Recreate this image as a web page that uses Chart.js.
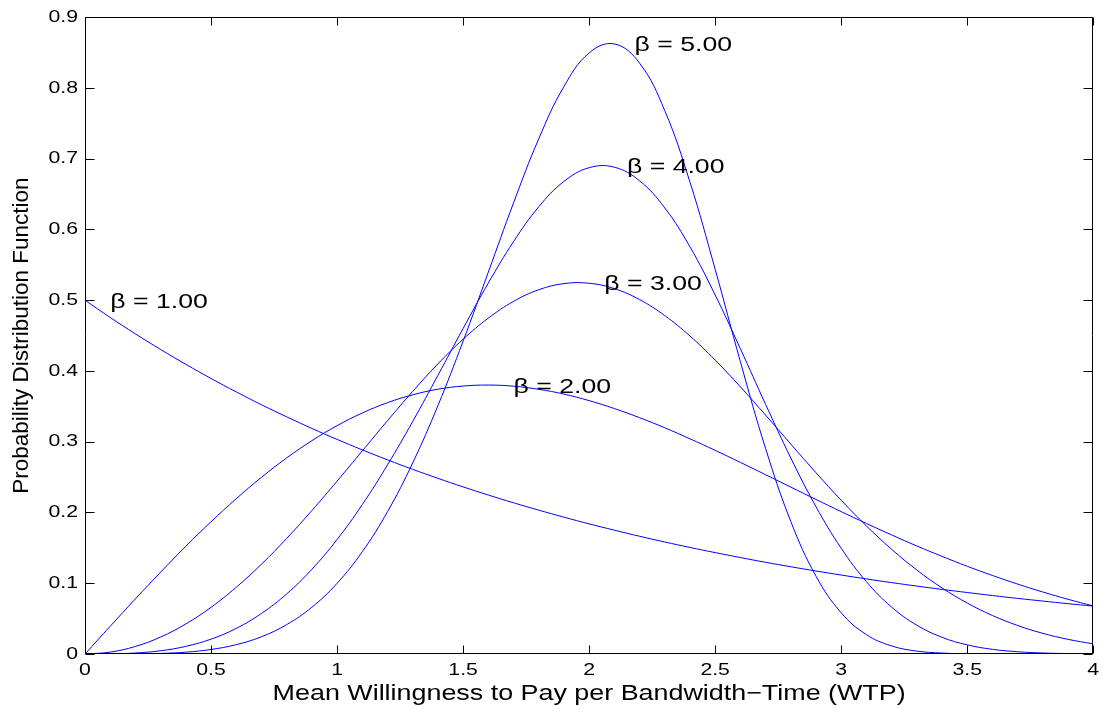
<!DOCTYPE html>
<html>
<head>
<meta charset="utf-8">
<script src="https://cdn.jsdelivr.net/npm/chart.js@4.4.1/dist/chart.umd.min.js"></script>
<style>
  html, body { margin: 0; padding: 0; background: #ffffff; }
  #wrap { width: 1104px; height: 709px; position: relative; }
</style>
</head>
<body>
<div id="wrap"><canvas id="c"></canvas></div>
<script>
// ---- data ----
const xValues = [0, 0.1, 0.2, 0.3, 0.4, 0.5, 0.6, 0.7, 0.8, 0.9,
                 1.0, 1.1, 1.2, 1.3, 1.4, 1.5, 1.6, 1.7, 1.8, 1.9,
                 2.0, 2.1, 2.2, 2.3, 2.4, 2.5, 2.6, 2.7, 2.8, 2.9,
                 3.0, 3.1, 3.2, 3.3, 3.4, 3.5, 3.6, 3.7, 3.8, 3.9, 4.0];

const beta1 = [0.5, 0.4756, 0.4524, 0.4304, 0.4094, 0.3894, 0.3704, 0.3523, 0.3352, 0.3188,
               0.3033, 0.2885, 0.2744, 0.2610, 0.2483, 0.2362, 0.2247, 0.2137, 0.2033, 0.1934,
               0.1839, 0.1750, 0.1664, 0.1583, 0.1506, 0.1433, 0.1363, 0.1296, 0.1233, 0.1173,
               0.1116, 0.1061, 0.1009, 0.0960, 0.0913, 0.0869, 0.0826, 0.0786, 0.0748, 0.0711, 0.0677];

const beta2 = [0, 0.0392, 0.0779, 0.1157, 0.1522, 0.1869, 0.2195, 0.2497, 0.2771, 0.3015,
               0.3227, 0.3406, 0.3552, 0.3663, 0.3742, 0.3787, 0.3801, 0.3785, 0.3741, 0.3673,
               0.3581, 0.3469, 0.3340, 0.3197, 0.3041, 0.2878, 0.2708, 0.2534, 0.2359, 0.2184,
               0.2012, 0.1845, 0.1683, 0.1527, 0.1380, 0.1240, 0.1110, 0.0988, 0.0876, 0.0773, 0.0679];

const beta3 = [0, 0.0027, 0.0107, 0.0240, 0.0425, 0.0660, 0.0943, 0.1269, 0.1633, 0.2027,
               0.2443, 0.2870, 0.3297, 0.3711, 0.4100, 0.4449, 0.4747, 0.4983, 0.5148, 0.5235,
               0.5240, 0.5164, 0.5009, 0.4783, 0.4494, 0.4154, 0.3776, 0.3376, 0.2967, 0.2562,
               0.2173, 0.1810, 0.1480, 0.1187, 0.0934, 0.0720, 0.0544, 0.0403, 0.0292, 0.0207, 0.0143];

const beta4 = [0, 0.0002, 0.0014, 0.0046, 0.0108, 0.0210, 0.0362, 0.0573, 0.0849, 0.1197,
               0.1618, 0.2111, 0.2672, 0.3286, 0.3938, 0.4600, 0.5242, 0.5828, 0.6320, 0.6679,
               0.6873, 0.6880, 0.6688, 0.6305, 0.5755, 0.5074, 0.4315, 0.3529, 0.2771, 0.2082,
               0.1495, 0.1022, 0.0663, 0.0407, 0.0236, 0.0129, 0.0066, 0.0032, 0.0014, 0.0006, 0.0002];

const beta5 = [0, 0.0000, 0.0002, 0.0008, 0.0026, 0.0064, 0.0132, 0.0244, 0.0415, 0.0661,
               0.0999, 0.1445, 0.2010, 0.2700, 0.3510, 0.4421, 0.5396, 0.6375, 0.7281, 0.8020,
               0.8495, 0.8622, 0.8351, 0.7680, 0.6669, 0.5437, 0.4131, 0.2905, 0.1874, 0.1100,
               0.0582, 0.0274, 0.0114, 0.0041, 0.0013, 0.0003, 0.0001, 0, 0, 0, 0];

const seriesNames = ['β = 1.00', 'β = 2.00', 'β = 3.00', 'β = 4.00', 'β = 5.00'];
const annotX = [0.10, 1.70, 2.06, 2.15, 2.18];
const annotY = [0.500, 0.380, 0.525, 0.690, 0.863];

const xTickValues = [0, 0.5, 1, 1.5, 2, 2.5, 3, 3.5, 4];
const xTickLabels = ['0', '0.5', '1', '1.5', '2', '2.5', '3', '3.5', '4'];
const yTickValues = [0, 0.1, 0.2, 0.3, 0.4, 0.5, 0.6, 0.7, 0.8, 0.9];
const yTickLabels = ['0', '0.1', '0.2', '0.3', '0.4', '0.5', '0.6', '0.7', '0.8', '0.9'];

const xTitle = 'Mean Willingness to Pay per Bandwidth\u2212Time (WTP)';
const yTitle = 'Probability Distribution Function';

// ---- build chart ----
const TEXT_STRETCH = 1.25;   // reference text is horizontally widened
const LABEL_STRETCH = 1.3;

const allSeries = [beta1, beta2, beta3, beta4, beta5];
const datasets = allSeries.map((ys, i) => ({
  label: seriesNames[i],
  data: xValues.map((x, j) => ({ x: x, y: ys[j] })),
  borderColor: '#0000ff',
  borderWidth: 1,
  pointRadius: 0,
  tension: 0.4,
  fill: false
}));

// widen horizontal text (not rotated text) like in the reference picture
const stretchText = {
  id: 'stretchText',
  beforeInit(chart) {
    const ctx = chart.ctx;
    if (ctx.__wrapped) return;
    ctx.__wrapped = true;
    ctx.__hstretch = TEXT_STRETCH;
    const orig = ctx.fillText.bind(ctx);
    ctx.fillText = function (text, x, y, maxWidth) {
      const m = this.getTransform();
      if (Math.abs(m.b) < 1e-9 && Math.abs(m.c) < 1e-9 && this.__hstretch !== 1) {
        this.save();
        this.translate(x, y);
        this.scale(this.__hstretch, 1);
        orig(text, 0, 0);
        this.restore();
      } else {
        orig(text, x, y, maxWidth);
      }
    };
  }
};

const frameTicks = {
  id: 'frameTicks',
  afterDraw(chart) {
    const { ctx, chartArea: a, scales: { x, y } } = chart;
    ctx.save();
    ctx.strokeStyle = '#000000';
    ctx.lineWidth = 1;
    const L = Math.round(a.left) + 0.5, R = Math.round(a.right) - 0.5;
    const T = Math.round(a.top) + 0.5, B = Math.round(a.bottom) - 0.5;
    ctx.beginPath();
    ctx.rect(L, T, R - L, B - T);
    ctx.stroke();
    ctx.beginPath();
    x.ticks.forEach(t => {
      const px = Math.round(x.getPixelForValue(t.value)) + 0.5;
      ctx.moveTo(px, B); ctx.lineTo(px, B - 8);
      ctx.moveTo(px, T); ctx.lineTo(px, T + 8);
    });
    y.ticks.forEach(t => {
      const py = Math.round(y.getPixelForValue(t.value)) + 0.5;
      ctx.moveTo(L, py); ctx.lineTo(L + 9, py);
      ctx.moveTo(R, py); ctx.lineTo(R - 9, py);
    });
    ctx.stroke();
    ctx.restore();
  }
};

const curveLabels = {
  id: 'curveLabels',
  afterDatasetsDraw(chart) {
    const { ctx, scales: { x, y } } = chart;
    ctx.save();
    const prev = ctx.__hstretch;
    ctx.__hstretch = LABEL_STRETCH;
    ctx.font = '20.5px "Liberation Sans", Arial, sans-serif';
    ctx.fillStyle = '#000000';
    ctx.textAlign = 'left';
    ctx.textBaseline = 'middle';
    seriesNames.forEach((s, i) => {
      ctx.fillText(s, x.getPixelForValue(annotX[i]), y.getPixelForValue(annotY[i]) + 2);
    });
    ctx.__hstretch = prev;
    ctx.restore();
  }
};

new Chart(document.getElementById('c'), {
  type: 'line',
  data: { datasets: datasets },
  plugins: [stretchText, frameTicks, curveLabels],
  options: {
    responsive: true,
    maintainAspectRatio: false,
    animation: false,
    layout: { padding: { top: 15, right: 5, left: 0, bottom: 0 } },
    plugins: { legend: { display: false }, tooltip: { enabled: false } },
    scales: {
      x: {
        type: 'linear',
        min: 0, max: 4,
        afterBuildTicks: s => { s.ticks = xTickValues.map(v => ({ value: v })); },
        afterFit: s => { s.height = 55; },
        grid: { display: false, drawTicks: false },
        border: { display: false },
        ticks: {
          color: '#000000',
          padding: 6,
          maxRotation: 0,
          autoSkip: false,
          font: { family: '"Liberation Sans", Arial', size: 17 },
          callback: (v) => { const k = xTickValues.indexOf(v); return k >= 0 ? xTickLabels[k] : ''; }
        },
        title: {
          display: true,
          text: xTitle,
          color: '#000000',
          font: { family: '"Liberation Sans", Arial', size: 21.5 },
          padding: { top: 0, bottom: 2 }
        }
      },
      y: {
        type: 'linear',
        min: 0, max: 0.9,
        afterBuildTicks: s => { s.ticks = yTickValues.map(v => ({ value: v })); },
        afterFit: s => { s.width = 85; },
        grid: { display: false, drawTicks: false },
        border: { display: false },
        ticks: {
          color: '#000000',
          padding: 7,
          autoSkip: false,
          font: { family: '"Liberation Sans", Arial', size: 17 },
          callback: (v) => {
            let k = -1;
            yTickValues.forEach((t, i) => { if (Math.abs(t - v) < 1e-9) k = i; });
            return k >= 0 ? yTickLabels[k] : '';
          }
        },
        title: {
          display: true,
          text: yTitle,
          color: '#000000',
          font: { family: '"Liberation Sans", Arial', size: 22.5 },
          padding: { top: 8, bottom: 0 }
        }
      }
    }
  }
});
</script>
</body>
</html>
